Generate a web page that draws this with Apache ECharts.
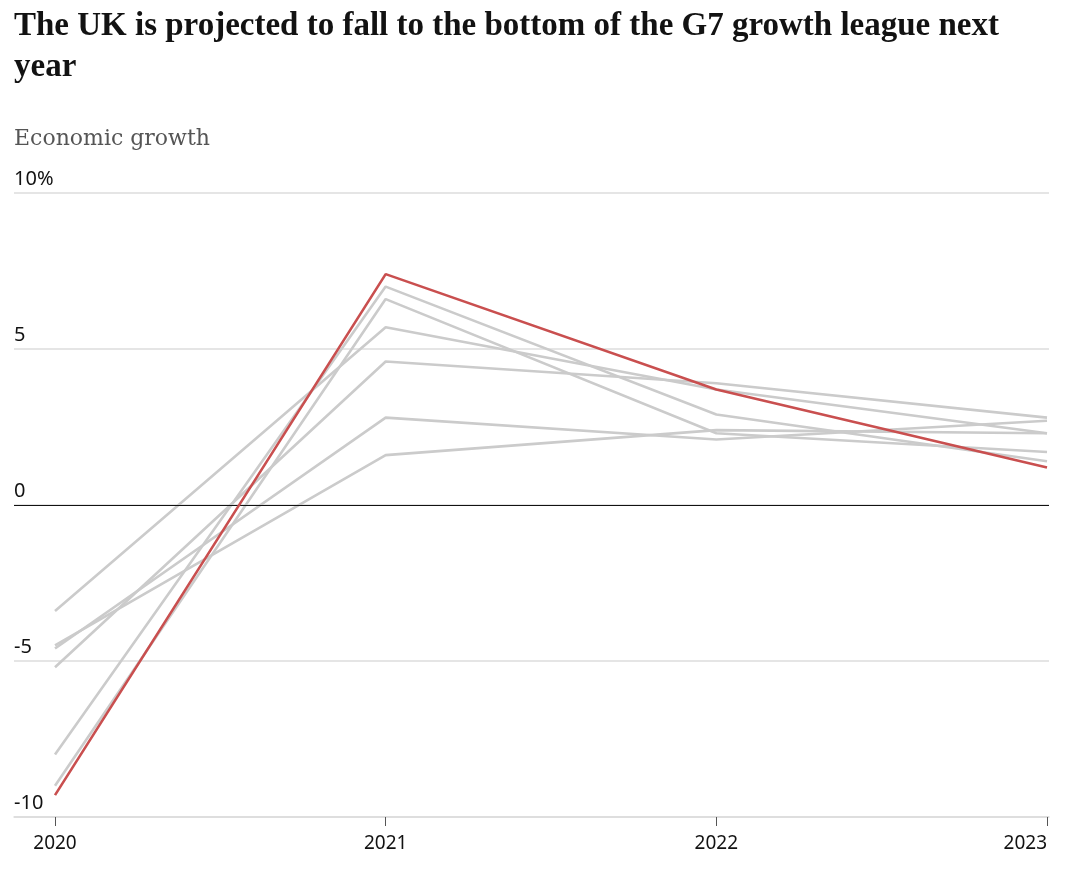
<!DOCTYPE html>
<html>
<head>
<meta charset="utf-8">
<script src="https://cdn.jsdelivr.net/npm/echarts@6/dist/echarts.min.js"></script>
<style>
html,body{margin:0;padding:0;background:#fff;}
#chart{width:1080px;height:881px;}
</style>
</head>
<body>
<div id="chart"></div>
<script>
// Data (growth projections, % change)
const years = [2020, 2021, 2022, 2023];
const yTicks = [-10, -5, 0, 5, 10];
const uk      = [-9.3, 7.4, 3.7, 1.2];
const us      = [-3.4, 5.7, 3.7, 2.3];
const germany = [-4.6, 2.8, 2.1, 2.7];
const france  = [-8.0, 7.0, 2.9, 1.4];
const italy   = [-9.0, 6.6, 2.3, 1.7];
const japan   = [-4.5, 1.6, 2.4, 2.3];
const canada  = [-5.2, 4.6, 3.9, 2.8];

const others = [
  ['US', us], ['Germany', germany], ['France', france],
  ['Italy', italy], ['Japan', japan], ['Canada', canada]
];

const pairs = arr => years.map((y, i) => [y, arr[i]]);

const series = others.map(([name, arr]) => ({
  name, type: 'line', data: pairs(arr), symbol: 'none',
  lineStyle: { color: '#cbcbcb', width: 2.6 }, z: 2, silent: true
}));
series.push({
  name: 'UK', type: 'line', data: pairs(uk), symbol: 'none',
  lineStyle: { color: '#c94f4f', width: 2.6 }, z: 5, silent: true,
  markLine: {
    silent: true, symbol: 'none', label: { show: false },
    lineStyle: { color: '#121212', width: 1.2, type: 'solid' },
    data: [{ yAxis: 0 }]
  }
});

const chart = echarts.init(document.getElementById('chart'), null, { renderer: 'canvas' });
chart.setOption({
  animation: false,
  backgroundColor: '#ffffff',
  title: [
    {
      text: 'The UK is projected to fall to the bottom of the G7 growth league next\nyear',
      left: 14, top: 6, padding: 0,
      textStyle: { fontFamily: 'Liberation Serif', fontWeight: 'bold', fontSize: 33, lineHeight: 41, color: '#121212' }
    },
    {
      text: 'Economic growth',
      left: 14, top: 128, padding: 0,
      textStyle: { fontFamily: 'DejaVu Serif', fontWeight: 'normal', fontSize: 22, color: '#555555' }
    }
  ],
  grid: { left: 14, right: 31, top: 193, bottom: 64, containLabel: false },
  xAxis: {
    type: 'value', min: 2019.876, max: 2023.006,
    axisLine: { show: true, onZero: false, lineStyle: { color: '#dcdcdc', width: 1.5 } },
    axisTick: { show: true, customValues: years, length: 9, lineStyle: { color: '#555', width: 1 } },
    axisLabel: {
      customValues: years, formatter: v => String(v), margin: 17,
      fontFamily: 'Noto Sans', fontSize: 19, color: '#121212',
      alignMaxLabel: 'right'
    },
    splitLine: { show: false }
  },
  yAxis: {
    type: 'value', min: -10, max: 10, interval: 5,
    axisLine: { show: false }, axisTick: { show: false },
    axisLabel: {
      inside: true, margin: 0, align: 'left', verticalAlign: 'bottom',
      padding: [0, 0, 4, 0],
      fontFamily: 'Noto Sans', fontSize: 20, color: '#121212',
      formatter: v => v === 10 ? '10%' : String(v)
    },
    splitLine: { show: true, lineStyle: { color: '#dcdcdc', width: 1.5 } }
  },
  series
});
</script>
</body>
</html>
